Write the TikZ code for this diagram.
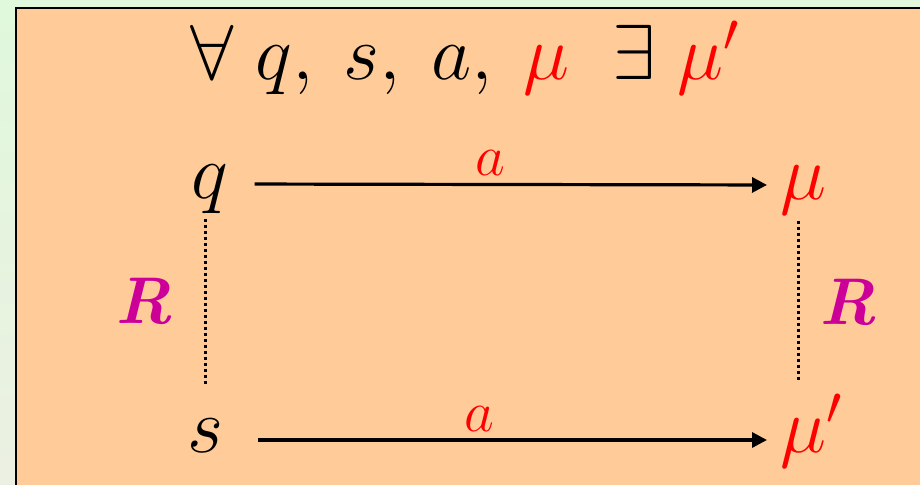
\RequirePackage{fix-cm}
\documentclass[tikz,border=0pt]{standalone}
\usepackage{xcolor}
\usetikzlibrary{arrows.meta, positioning}
\definecolor{peach}{RGB}{255,204,153}
\definecolor{relmag}{RGB}{204,0,153}
\definecolor{mintA}{RGB}{224,248,220}
\definecolor{mintB}{RGB}{236,240,226}
\tikzset{
	statelbl/.style={inner sep=0pt, font=\fontsize{39}{44}\selectfont},
	actlbl/.style={inner sep=0pt, font=\fontsize{29}{33}\selectfont, text=red},
	rellbl/.style={inner sep=0pt, anchor=base, font=\fontsize{33}{38}\selectfont\bfseries\itshape, text=relmag},
	transarr/.style={-{Triangle[length=7.5pt,width=7.5pt]}, line width=1.6pt},
	reldots/.style={line width=1.5pt, dash pattern=on 1.5pt off 1.5pt},
}

\begin{document}
\begin{tikzpicture}[x=0.5pt, y=-0.5pt]
	\useasboundingbox (0,0) rectangle (920,485);
	\clip (0,0) rectangle (920,485);
	\shade[top color=mintA, bottom color=mintB] (0,0) rectangle (920,485);
	\draw[line width=1.2pt, fill=peach] (16,8) rectangle (940,505);
	% header line
	\node[statelbl, anchor=base] (head) at (465,80)
		{$\forall\; q,\: s,\: a,\: \textcolor{red}{\mu}\;\; \exists\; \textcolor{red}{\mu'}$};
	% square
	\node[statelbl, anchor=base] (q) at (210,199) {$q$};
	\node[statelbl, anchor=base west] (mu) at (780,200) {$\textcolor{red}{\mu}$};
	\node[statelbl, anchor=base] (s) at (205,453) {$s$};
	\node[statelbl, anchor=base west] (mup) at (780,453) {$\textcolor{red}{\mu'}$};
	\draw[transarr, shorten <=13pt, shorten >=6.5pt] ([yshift=7.5pt]q.base east) -- ([yshift=7.5pt]mu.base west)
		node[actlbl, pos=0.475, anchor=south, yshift=3.5pt] (a1) {$a$};
	\draw[transarr, shorten <=17.5pt, shorten >=6.5pt] ([yshift=6.5pt]s.base east) -- ([yshift=6.5pt]mup.base west)
		node[actlbl, pos=0.46, anchor=south, yshift=3.5pt] (a2) {$a$};
	\draw[reldots, shorten <=2pt, shorten >=17.5pt] (q.south -| s.north) -- (s.north);
	\draw[reldots, shorten <=2.5pt, shorten >=7pt] ([xshift=-2.5pt]mu.south) -- ([xshift=-2.5pt]mu.south |- mup.north);
	\node[rellbl] (rl) at (144,324) {R};
	\node[rellbl] (rr) at (848,325) {R};
\end{tikzpicture}
\end{document}
